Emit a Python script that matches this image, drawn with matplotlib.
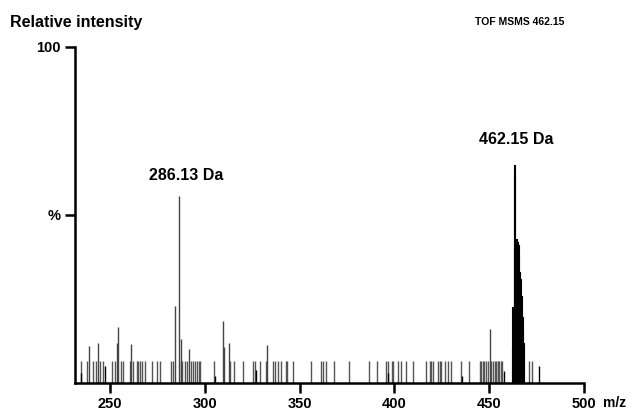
import numpy as np
import matplotlib
matplotlib.use('Agg')
import matplotlib.pyplot as plt

plt.rcParams['font.family'] = ['Liberation Sans', 'DejaVu Sans']
plt.rcParams['font.weight'] = 'bold'

# baseline noise peaks (m/z), all about the same low height
noise_mz = [234.9, 237.7, 241.2, 242.5, 244.7, 246.5, 250.9, 252.6, 255.6, 257.0,
            260.5, 262.3, 264.0, 264.9, 265.8, 267.0, 268.4, 272.3, 274.9, 276.3,
            281.9, 283.2, 287.2, 288.2, 289.5, 290.7, 292.6, 293.5, 294.7, 295.6,
            297.0, 297.7, 304.9, 313.5, 315.4, 320.2, 325.4, 326.3, 328.9, 332.1,
            335.9, 336.8, 338.6, 340.4, 343.0, 343.2, 346.5, 355.8, 361.1, 362.3,
            363.7, 368.1, 376.0, 386.5, 390.9, 395.3, 396.5, 398.8, 399.0, 402.0,
            403.4, 406.3, 409.8, 416.8, 418.6, 419.5, 420.4, 423.0, 423.8, 424.7,
            426.8, 428.2, 429.6, 435.3, 439.6, 444.9, 445.8, 446.7, 447.5, 448.4,
            449.3, 451.0, 451.9, 452.8, 453.5, 454.4, 454.6, 455.3, 456.2, 457.0,
            471.0, 472.5]
noise_int = 6.5

# short peaks below noise level
low_mz = [234.9, 247.4, 305.6, 327.2, 396.5, 435.8, 457.9, 476.3]
low_int = [3.0, 5.0, 2.0, 4.0, 3.0, 2.0, 3.5, 5.0]

# taller individual peaks
peak_mz = [239.0, 243.7, 253.5, 254.4, 261.2, 284.2, 286.3, 287.4, 291.6,
           309.6, 310.2, 312.8, 333.0, 450.4]
peak_int = [11.0, 12.0, 12.0, 16.7, 11.6, 23.0, 55.6, 13.0, 10.0,
            18.5, 10.7, 12.0, 11.3, 16.0]

# parent ion cluster around 462.15
cluster_mz = [462.5, 462.8, 463.1, 463.4, 463.6, 463.8, 464.1, 464.4, 464.7, 465.0,
              465.3, 465.6, 465.9, 466.2, 466.5, 466.8, 467.1, 467.4, 467.7, 468.0,
              468.3, 468.6]
cluster_int = [10.0, 22.6, 22.0, 40.0, 65.0, 62.0, 43.0, 43.0, 42.5, 42.0,
               41.5, 41.0, 38.0, 33.0, 32.0, 31.0, 26.0, 21.0, 19.6, 15.0,
               12.0, 10.7]

fig = plt.figure(figsize=(6.38, 4.12), dpi=100)
ax = fig.add_axes([75 / 638, 1 - 383 / 412, (584 - 75) / 638, (383 - 47) / 412])

ax.vlines(noise_mz, 0, noise_int, color='#555555', lw=1.0)
ax.vlines(low_mz, 0, low_int, color='black', lw=1.0)
ax.vlines(peak_mz, 0, peak_int, color='#444444', lw=1.0)
ax.vlines(cluster_mz, 0, cluster_int, color='black', lw=1.5)

ax.set_xlim(231.5, 500)
ax.set_ylim(0, 100)

for s in ['top', 'right']:
    ax.spines[s].set_visible(False)
for s in ['left', 'bottom']:
    ax.spines[s].set_linewidth(1.8)

ax.set_xticks([250, 300, 350, 400, 450, 500])
ax.set_yticks([50, 100])
ax.set_yticklabels(['%', '100'])
ax.tick_params(axis='both', width=1.8, length=7, labelsize=10.5, pad=3)

ax.text(290, 61.8, '286.13 Da', ha='center', va='center', fontsize=11.5)
ax.text(464.2, 72.5, '462.15 Da', ha='center', va='center', fontsize=11.5)

fig.text(10 / 638, 1 - 22 / 412, 'Relative intensity', ha='left', va='center', fontsize=11.5)
fig.text(475 / 638, 1 - 22 / 412, 'TOF MSMS 462.15', ha='left', va='center', fontsize=7.5)
fig.text(603 / 638, 1 - 403 / 412, 'm/z', ha='left', va='center', fontsize=10)

fig.savefig('out.png', dpi=100)
